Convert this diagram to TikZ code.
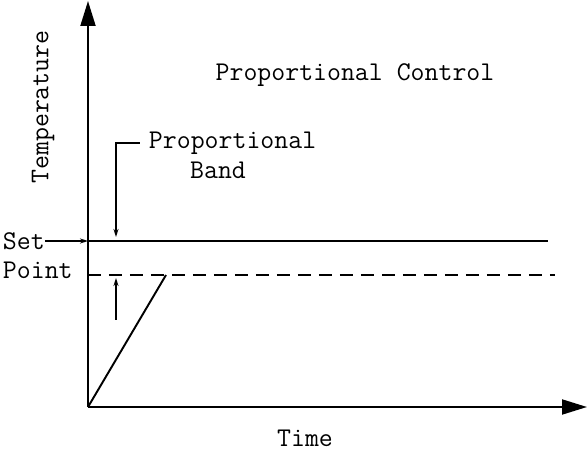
\documentclass[tikz,border=0pt]{standalone}
\usetikzlibrary{arrows.meta, positioning, calc}

\begin{document}
\begin{tikzpicture}[>=Stealth, line width=1.1pt,
    axis/.style={-{Triangle[length=0.5cm, width=0.3cm]}},
    lbl/.style={font=\ttfamily\fontsize{15.4}{17}\selectfont, inner sep=0pt},
    tip/.style={-{Stealth[length=0.16cm, width=0.1cm]}, line width=0.9pt}]
  \useasboundingbox (-1.76,-0.86) rectangle (9.98,8.14);
  % Axes
  \coordinate (O) at (0,0);
  \coordinate (ytop) at (0,8.12);
  \coordinate (xend) at (9.98,0);
  \draw[axis] (O) -- (ytop);
  \draw[axis] (O) -- (xend);
  \node[lbl, rotate=90] (temp) at (-0.9,6.0) {Temperature};
  \node[lbl] (time) at (4.34,-0.62) {Time};
  \node[lbl] (title) at (5.34,6.64) {Proportional Control};
  % Set point and band
  \coordinate (sp) at (0,3.32);
  \coordinate (spend) at (9.2,3.32);
  \coordinate (pb) at (0,2.64);
  \coordinate (pbend) at (9.34,2.64);
  \draw (sp) -- (spend);
  \draw[dash pattern=on 0.26cm off 0.16cm] (pb) -- (pbend);
  \node[lbl, anchor=west] (set) at (-1.72,3.32) {Set};
  \node[lbl, anchor=west] (point) at (-1.72,2.74) {Point};
  \coordinate (setfoot) at (-0.86,3.32);
  \draw[tip] (setfoot) -- (sp);
  % Band label with arrows
  \node[lbl, anchor=west] (prop) at (1.2,5.28) {Proportional};
  \node[lbl] (band) at (2.6,4.74) {Band};
  \coordinate (brk) at (1.04,5.28);
  \coordinate (bandtop) at (0.56,3.40);
  \coordinate (lowfoot) at (0.56,1.74);
  \coordinate (lowtip) at (0.56,2.58);
  \draw[tip] (brk) -| (bandtop);
  \draw[tip] (lowfoot) -- (lowtip);
  % Temperature rise
  \coordinate (ramp) at (1.56,2.64);
  \draw (O) -- (ramp);
\end{tikzpicture}
\end{document}
